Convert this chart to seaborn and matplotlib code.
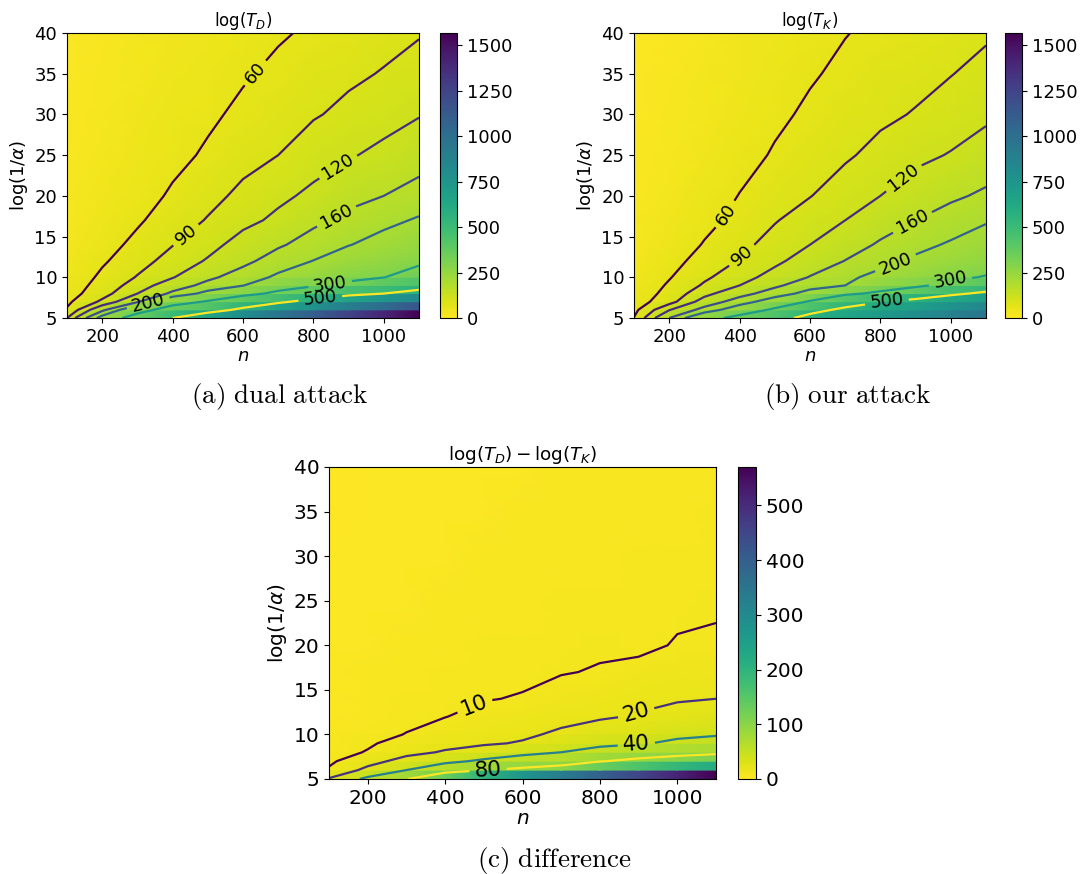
import numpy as np
import matplotlib
matplotlib.use("Agg")
import matplotlib.pyplot as plt
import seaborn as sns

# ---------------- data ----------------
n_values = [100, 200, 300, 400, 500, 600, 700, 800, 900, 1000, 1100]
log_inv_alpha = [5, 6, 7, 8, 9, 10, 12, 14, 17, 20, 25, 30, 35, 40]

# log(T_D): one list per n, values along log(1/alpha)
log_TD = [
    [90, 63, 54, 47, 42, 38, 32, 28, 23, 20, 16, 13, 11.5, 10],
    [220, 150, 96, 78, 72, 66, 56, 48, 40, 34, 27, 23, 20, 17],
    [360, 250, 155, 120, 103, 92, 78, 68, 56, 48, 39, 33, 28, 25],
    [500, 360, 250, 168, 140, 118, 102, 89, 75, 64, 52, 44, 38, 33],
    [650, 420, 310, 215, 172, 152, 123, 110, 92, 81, 64, 55, 48, 42],
    [800, 540, 380, 270, 198, 178, 150, 132, 112, 97, 80, 66, 57, 50],
    [950, 660, 470, 320, 260, 208, 178, 155, 126, 114, 90, 77, 66, 57],
    [1100, 780, 560, 380, 290, 250, 201, 176, 152, 126, 108, 87, 75, 64],
    [1250, 900, 650, 455, 315, 285, 230, 198, 170, 148, 117, 98, 84, 72],
    [1400, 1020, 740, 500, 380, 298, 255, 218, 188, 160, 128, 108, 92, 80],
    [1566, 1150, 820, 560, 430, 350, 280, 240, 205, 175, 143, 118, 101, 88],
]

# log(T_K)
log_TK = [
    [61, 52, 45, 40, 36, 33, 28, 24, 20, 17, 14, 12, 10.5, 9],
    [160, 118, 78, 70, 64, 58, 49, 42, 35, 30, 24, 20, 17.5, 15],
    [250, 175, 135, 110, 94, 85, 72, 62, 52, 44, 36, 30, 26, 23],
    [340, 230, 180, 145, 120, 108, 92, 82, 68, 61, 49, 41, 35, 31],
    [430, 320, 225, 180, 152, 132, 113, 101, 88, 76, 63, 54, 46, 40],
    [560, 440, 310, 215, 185, 162, 136, 120, 104, 89, 75, 65, 57, 50],
    [640, 540, 410, 280, 200, 190, 161, 142, 120, 105, 86, 74, 66, 59],
    [720, 620, 490, 320, 250, 215, 185, 165, 141, 120, 99, 84, 74, 66],
    [800, 690, 560, 380, 280, 245, 208, 188, 160, 137, 112, 92, 81, 72],
    [880, 760, 620, 470, 330, 285, 235, 205, 178, 153, 122, 103, 89, 79],
    [960, 840, 690, 530, 400, 305, 262, 228, 195, 167, 135, 114, 99, 86],
]

# log(T_D) - log(T_K)
log_diff = [
    [21, 11, 8.5, 7, 6, 5, 4, 3.5, 3, 2.5, 2, 1.5, 1.2, 1],
    [45, 23, 16, 10.5, 9, 8, 6.5, 5.5, 4.5, 4, 3, 2.5, 2, 2],
    [78, 40, 24, 17, 13, 10.2, 8.5, 7, 6, 5, 4, 3.5, 3, 2.5],
    [130, 60, 34, 21, 17, 14, 9.8, 8.5, 7, 6, 5, 4, 3.5, 3],
    [200, 78, 44, 26, 18.5, 16, 12.5, 9.6, 8, 7, 5.5, 4.5, 4, 3.5],
    [270, 90, 52, 34, 21, 18, 14, 10.5, 8.5, 7.5, 6, 5, 4.5, 4],
    [330, 100, 62, 40, 28, 22, 16.5, 13, 9.6, 8.5, 7, 6, 5, 4.5],
    [390, 130, 78, 48, 35, 27, 18.5, 15, 10.5, 9, 7.5, 6.5, 5.5, 5],
    [450, 160, 90, 58, 38, 31, 21, 17, 12, 8.5, 8, 7, 6, 5.5],
    [510, 190, 100, 66, 44, 36, 24, 19, 13.5, 10.5, 8.5, 7.5, 6.5, 6],
    [570, 220, 110, 72, 50, 38, 27, 20, 15, 11, 9, 8, 7, 6.5],
]

levels_T = [60, 90, 120, 160, 200, 300, 500]
levels_diff = [10, 20, 40, 80]
cbar_ticks_T = [0, 250, 500, 750, 1000, 1250, 1500]
cbar_ticks_diff = [0, 100, 200, 300, 400, 500]

# label anchor points (n, log(1/alpha)) for the contour labels
labels_a = [(643, 34.8), (430, 15.6), (876, 23.2), (867, 17.4), (330, 7.0), (847, 9.3), (819, 7.6)]
labels_b = [(350, 18.0), (406, 12.7), (870, 22.0), (893, 16.6), (842, 11.9), (998, 9.7), (818, 7.2)]
labels_c = [(481, 12.8), (894, 12.4), (894, 9.0), (511, 6.24)]

# ---------------- style ----------------
sns.set_theme(style="ticks", rc={
    "axes.edgecolor": "black", "axes.linewidth": 0.8,
    "xtick.color": "black", "ytick.color": "black",
    "text.color": "black", "axes.labelcolor": "black",
    "xtick.major.size": 3.5, "ytick.major.size": 3.5,
    "xtick.major.width": 0.8, "ytick.major.width": 0.8,
})
plt.rcParams["font.family"] = ["DejaVu Sans"]
plt.rcParams["mathtext.fontset"] = "dejavusans"

cmap_field = sns.color_palette("viridis_r", as_cmap=True)
cmap_lines = sns.color_palette("viridis", as_cmap=True)

W, H = 1081, 874
fig = plt.figure(figsize=(W / 100, H / 100), dpi=100)


def rect(x0, y0, x1, y1):
    return [x0 / W, 1 - y1 / H, (x1 - x0) / W, (y1 - y0) / H]


def cell_mesh(Z):
    """Rows below 10 are drawn as flat bands (cell look), the rest smoothly."""
    ys, zs = [], []
    for i, y in enumerate(log_inv_alpha):
        ys.append(y)
        zs.append(Z[i])
        if y < 10 and i + 1 < len(log_inv_alpha):
            ys.append(log_inv_alpha[i + 1])
            zs.append(Z[i])
    Nm, Ym = np.meshgrid(np.array(n_values, float), np.array(ys, float))
    return Nm, Ym, np.array(zs)


def panel(ax_px, cax_px, data, levels, vmax, cticks, title, label_pos,
          fs_tick, fs_cb, fs_title, fs_clab):
    Z = np.array(data, float).T
    N, Y = np.meshgrid(np.array(n_values, float), np.array(log_inv_alpha, float))
    ax = fig.add_axes(rect(*ax_px))
    Nm, Ym, Zm = cell_mesh(Z)
    mesh = ax.pcolormesh(Nm, Ym, Zm, shading="gouraud", cmap=cmap_field,
                         vmin=0, vmax=vmax, rasterized=True)
    lo, hi = min(levels), max(levels)
    for lev, pos in zip(levels, label_pos):
        col = cmap_lines((lev - lo) / (hi - lo))
        cs = ax.contour(N, Y, Z, levels=[lev], colors=[col], linewidths=1.6)
        ax.clabel(cs, manual=[pos], inline=True, fontsize=fs_clab,
                  fmt="%d", colors="black")
    ax.set_xlim(100, 1100)
    ax.set_ylim(5, 40)
    ax.set_xticks([200, 400, 600, 800, 1000])
    ax.set_yticks([5, 10, 15, 20, 25, 30, 35, 40])
    ax.tick_params(labelsize=fs_tick)
    ax.set_xlabel(r"$n$", fontsize=fs_tick, labelpad=1)
    ax.set_ylabel(r"log(1/$\alpha$)", fontsize=fs_tick, labelpad=3)
    ax.set_title(title, fontsize=fs_title, pad=5)
    cax = fig.add_axes(rect(*cax_px))
    cb = fig.colorbar(mesh, cax=cax, ticks=cticks)
    cb.ax.tick_params(labelsize=fs_cb)
    cb.outline.set_linewidth(0.8)
    return ax


vmax_T = float(np.max(log_TD))
vmax_diff = float(np.max(log_diff))

panel((67, 33, 419, 318), (440, 33, 457, 318), log_TD, levels_T, vmax_T, cbar_ticks_T,
      r"$\log(T_D)$", labels_a, 13, 13, 12, 13)
panel((634, 33, 986, 318), (1005, 33, 1022, 318), log_TK, levels_T, vmax_T, cbar_ticks_T,
      r"$\log(T_K)$", labels_b, 13, 13, 12, 13)
panel((329, 467, 716, 779), (738, 467, 756, 779), log_diff, levels_diff, vmax_diff, cbar_ticks_diff,
      r"$\log(T_D) - \log(T_K)$", labels_c, 14.5, 14.5, 13.2, 15.5)

fig.text(280 / W, 1 - 396 / H, r"$\mathrm{(a)\ dual\ attack}$", ha="center", va="center",
         fontsize=19.5, math_fontfamily="cm")
fig.text(848 / W, 1 - 396 / H, r"$\mathrm{(b)\ our\ attack}$", ha="center", va="center",
         fontsize=19.5, math_fontfamily="cm")
fig.text(554 / W, 1 - 860 / H, r"$\mathrm{(c)\ difference}$", ha="center", va="center",
         fontsize=19.5, math_fontfamily="cm")

fig.savefig("out.png", dpi=100)
